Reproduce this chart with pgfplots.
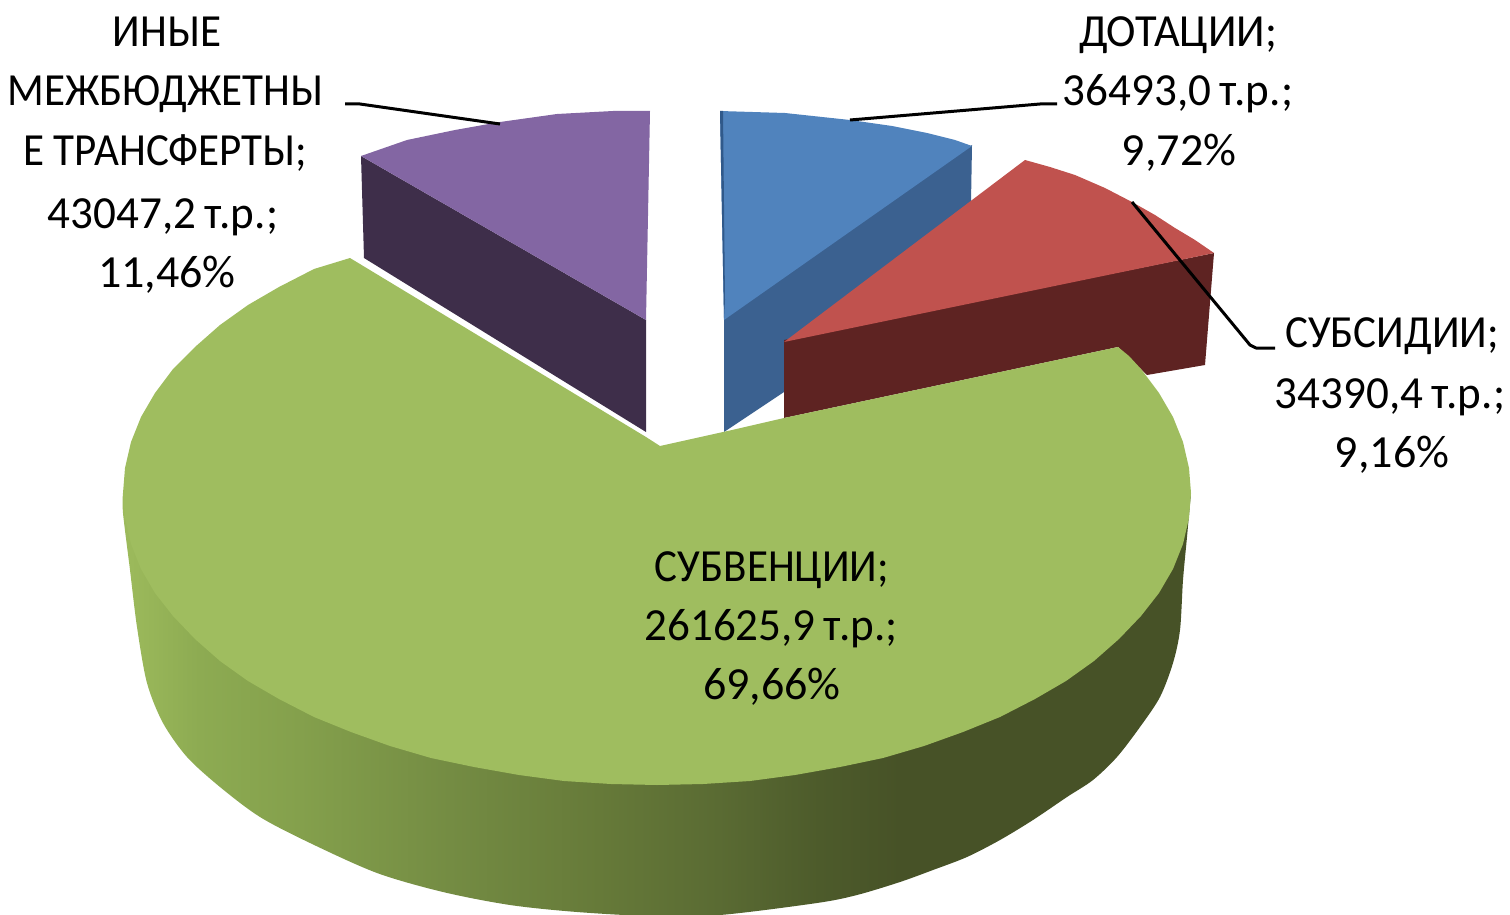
\documentclass[border=0pt]{standalone}
\usepackage{pgfplots}
\pgfplotsset{compat=1.18}
\usepackage{fontspec}
\setmainfont{Carlito}
\newfontfamily\capf[FakeStretch=0.935]{Carlito}
\newfontfamily\capg[FakeStretch=0.965]{Carlito}
\newfontfamily\numf[FakeStretch=0.98]{Carlito}
\definecolor{wa}{HTML}{9DBB5C}
\definecolor{wb}{HTML}{8DAB52}
\definecolor{wc}{HTML}{84A04C}
\definecolor{wd}{HTML}{748C43}
\definecolor{we}{HTML}{667A39}
\definecolor{wf}{HTML}{5A6B33}
\definecolor{wg}{HTML}{4D5B2B}
\definecolor{wh}{HTML}{475227}
\pgfdeclarehorizontalshading{wallshade}{100bp}{
color(0bp)=(wa); color(25bp)=(wa); color(28.6bp)=(wb); color(33.3bp)=(wc);
color(40.3bp)=(wd); color(47.3bp)=(we); color(52.9bp)=(wf); color(57.6bp)=(wg);
color(61.4bp)=(wh); color(100bp)=(wh)}
\definecolor{bluetop}{HTML}{5083BD}
\definecolor{bluewall}{HTML}{3B6190}
\definecolor{bluedge}{HTML}{30598A}
\definecolor{purptop}{HTML}{8366A3}
\definecolor{purpwall}{HTML}{3E2E4A}
\definecolor{redtop}{HTML}{C0524E}
\definecolor{redwall}{HTML}{5E2322}
\definecolor{greentop}{HTML}{9FBD5F}
\tikzset{lab/.style={anchor=base,inner sep=0pt,font=\fontsize{46}{55}\selectfont,text=black},
 lead/.style={black,line width=3pt,line join=round}}
\begin{document}
\begin{tikzpicture}
\begin{axis}[
  scale only axis,width=1510pt,height=915pt,
  xmin=0,xmax=1510,ymin=0,ymax=915,y dir=reverse,
  hide axis,clip=true,
  every axis plot/.append style={no markers},
]
% frame (invisible) to hold the full extent
\addplot[draw=none] coordinates {(0,0)(1510,915)};
% blue slice
\addplot[fill=bluewall,draw=none] coordinates {(972,145)(724,318)(724,432)(790,388)(970,260)} --cycle;
\addplot[fill=bluetop,draw=none] coordinates {(720,111)(785,113)(850,120)(892,126)(927,133)(955,140)(972,146)(724,320)} --cycle;
\addplot[fill=bluedge,draw=none] coordinates {(720,111)(723,111)(725,300)(724,318)} --cycle;
% purple slice
\addplot[fill=purpwall,draw=none] coordinates {(361,156)(646,320)(646,432)(364,258)} --cycle;
\addplot[fill=purptop,draw=none] coordinates {(361,156)(407,140)(455,130)(500,122)(557,114)(613,111)(650,111)(646,320)} --cycle;
% red slice
\addplot[fill=redwall,draw=none] coordinates {(784,340)(1214,253)(1205,365)(1147,375)(1118,347)(784,418)} --cycle;
\addplot[fill=redtop,draw=none] coordinates {(1025,160)(1050,167)(1075,175)(1105,188)(1132,202)(1155,215)(1175,228)(1195,240)(1214,253)(784,342)} --cycle;
% green slice wall
\addplot[shading=wallshade,draw=none,smooth,tension=0.5] coordinates {
(123,493)(123,513)(130,570)(137,627)(147,683)(163,723)(187,757)(220,787)(260,817)(310,843)(377,873)(443,892)(510,905)(577,912)(650,916)(720,915)
(817,903)(857,895)(900,882)(933,870)(967,857)(1000,840)(1033,820)(1067,797)(1093,780)(1117,757)(1140,727)(1160,697)(1173,663)(1180,630)(1183,580)(1187,537)(1191,493)} --cycle;
% green slice top
\addplot[fill=greentop,draw=none] coordinates {
(350,258)(314,269)(279,287)(248,305)(220,325)(195,347)(173,369)(155,393)(141,417)(131,442)(125,468)(123,493)
(125,518)(131,544)(141,569)(155,593)(173,616)(195,639)(220,661)(248,681)(279,699)(314,717)(351,732)(390,746)
(431,758)(474,767)(519,775)(564,781)(611,784)(657,785)(703,784)(750,781)(795,775)(840,767)(883,758)(924,746)
(963,732)(1000,717)(1035,699)(1066,681)(1094,661)(1119,639)(1141,616)(1159,593)(1173,569)(1183,544)(1189,518)
(1191,493)(1189,468)(1183,442)(1173,417)(1159,393)(1141,369)(1129,356)(1118,347)(784,418)(732,430)(660,446)(646,437)} --cycle;
% leader lines
\addplot[lead] coordinates {(345,104)(360,104)(500,124)};
\addplot[lead] coordinates {(850,120)(1040,104)(1057,104)};
\addplot[lead] coordinates {(1132,202)(1250,345)(1256,348)(1275,348)};
% labels
\node[lab] at (axis cs:167,47) {\capf ИНЫЕ};
\node[lab] at (axis cs:165,106) {\capf МЕЖБЮДЖЕТНЫ};
\node[lab] at (axis cs:165,165) {\capf Е ТРАНСФЕРТЫ;};
\node[lab] at (axis cs:163,228) {\numf 43047,2\,т.р.;};
\node[lab] at (axis cs:167,287) {11,46\%};
\node[lab] at (axis cs:1178,47) {\capg ДОТАЦИИ;};
\node[lab] at (axis cs:1178,106) {\numf 36493,0\,т.р.;};
\node[lab] at (axis cs:1179,165) {9,72\%};
\node[lab] at (axis cs:1392,347) {\capf СУБСИДИИ;};
\node[lab] at (axis cs:1390,408) {\numf 34390,4\,т.р.;};
\node[lab] at (axis cs:1392,467) {9,16\%};
\node[lab] at (axis cs:772,581) {\capf СУБВЕНЦИИ;};
\node[lab] at (axis cs:771,640) {\numf 261625,9\,т.р.;};
\node[lab] at (axis cs:772,699) {69,66\%};
\end{axis}
\end{tikzpicture}
\end{document}
